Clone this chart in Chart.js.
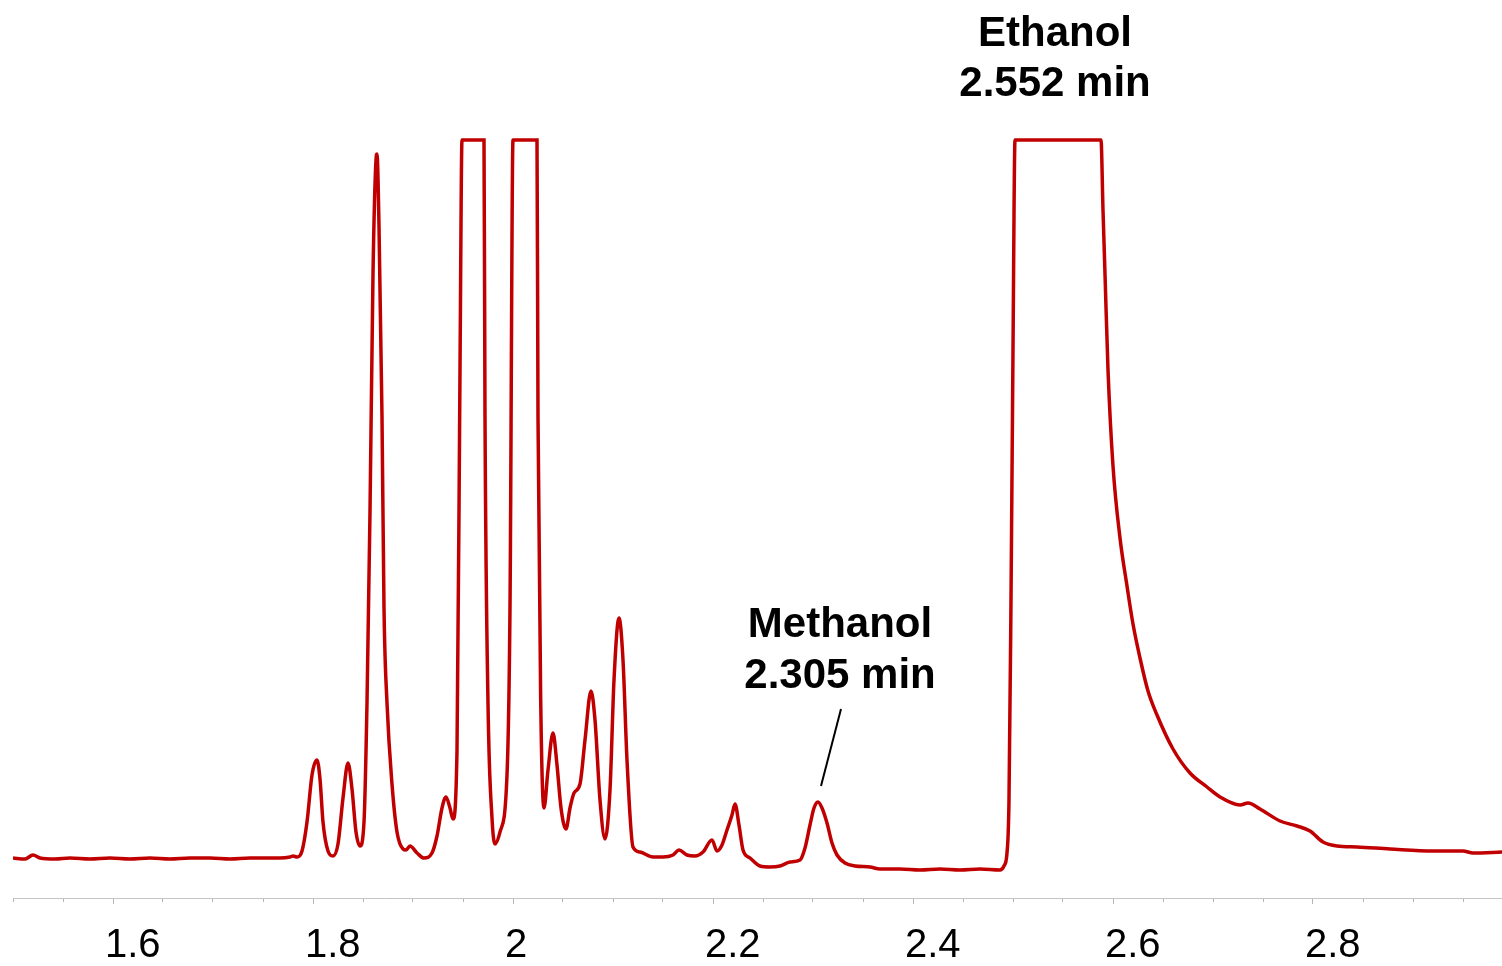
<!DOCTYPE html>
<html>
<head>
<meta charset="utf-8">
<script src="https://cdn.jsdelivr.net/npm/chart.js@4/dist/chart.umd.min.js"></script>
<style>
  html, body { margin: 0; padding: 0; background: #fff; }
  #wrap { width: 1502px; height: 966px; }
</style>
</head>
<body>
<div id="wrap"><canvas id="chrom" width="1502" height="966"></canvas></div>
<script>
// Retention time (min) and detector signal (arbitrary units)
const times = [
  1.500, 1.512, 1.520, 1.527, 1.542, 1.557, 1.577, 1.597, 1.617, 1.637,
  1.657, 1.677, 1.697, 1.717, 1.737, 1.757, 1.767, 1.777, 1.780, 1.784,
  1.789, 1.794, 1.799, 1.804, 1.807, 1.810, 1.815, 1.820, 1.825, 1.830,
  1.835, 1.839, 1.843, 1.847, 1.851, 1.854, 1.857, 1.860, 1.863, 1.864,
  1.866, 1.869, 1.871, 1.874, 1.879, 1.884, 1.890, 1.893, 1.897, 1.904,
  1.911, 1.919, 1.924, 1.929, 1.933, 1.937, 1.940, 1.944, 1.947, 1.949,
  1.971, 1.972, 1.975, 1.979, 1.982, 1.987, 1.994, 1.997, 2.000, 2.024,
  2.025, 2.028, 2.031, 2.035, 2.040, 2.044, 2.048, 2.053, 2.057, 2.061,
  2.067, 2.072, 2.078, 2.082, 2.087, 2.092, 2.097, 2.101, 2.106, 2.110,
  2.114, 2.120, 2.127, 2.140, 2.150, 2.160, 2.166, 2.174, 2.182, 2.190,
  2.199, 2.204, 2.209, 2.214, 2.219, 2.222, 2.226, 2.230, 2.237, 2.247,
  2.257, 2.267, 2.277, 2.287, 2.292, 2.297, 2.301, 2.305, 2.309, 2.314,
  2.319, 2.324, 2.332, 2.342, 2.357, 2.367, 2.387, 2.407, 2.427, 2.447,
  2.467, 2.487, 2.491, 2.494, 2.496, 2.498, 2.500, 2.502, 2.588, 2.590,
  2.592, 2.595, 2.600, 2.607, 2.614, 2.620, 2.627, 2.635, 2.644, 2.660,
  2.677, 2.694, 2.707, 2.727, 2.735, 2.747, 2.767, 2.784, 2.797, 2.810,
  2.824, 2.844, 2.877, 2.920, 2.950, 2.960, 2.989
];
const signal = [
   40,  39,  43,  40,  39,  40,  39,  40,  39,  40,
   39,  40,  40,  39,  40,  40,  40,  41,  42,  41,
   47,  76, 123, 138, 119,  76,  47,  42,  54, 100,
  135, 109,  66,  52,  76, 195, 386, 624, 738, 744,
  672, 481, 290, 195, 114,  66,  49,  48,  52,  45,
   40,  45,  62,  90, 101,  90,  79, 147, 529, 758,
  758, 481, 195,  80,  54,  66, 123, 290, 758, 758,
  481, 178,  90, 128, 165, 133,  90,  69,  90, 105,
  114, 158, 207, 178,  98,  59, 108, 218, 280, 238,
  138,  51,  46,  41,  41,  43,  48,  43,  42,  46,
   58,  47,  53,  68,  83,  94,  73,  48,  40,  32,
   31,  32,  36,  38,  50,  73,  90,  96,  90,  75,
   55,  43,  35,  32,  31,  29,  29,  28,  29,  28,
   29,  28,  32,  45,  98, 298, 548, 758, 758, 688,
  624, 528, 432, 360, 312, 274, 240, 207, 183, 149,
  125, 111, 101,  93,  95,  89,  77,  72,  67,  56,
   52,  51,  49,  47,  47,  45,  46
];

const axisTicks = [
  1.50, 1.55, 1.60, 1.65, 1.70, 1.75, 1.80, 1.85, 1.90, 1.95,
  2.00, 2.05, 2.10, 2.15, 2.20, 2.25, 2.30, 2.35, 2.40, 2.45,
  2.50, 2.55, 2.60, 2.65, 2.70, 2.75, 2.80, 2.85, 2.90, 2.95
];
const majorTicks = [1.6, 1.8, 2.0, 2.2, 2.4, 2.6, 2.8];
const tickLabels = ['1.6', '1.8', '2', '2.2', '2.4', '2.6', '2.8'];

const peakNames = ['Methanol', 'Ethanol'];
const peakTimes = [2.305, 2.552];

const FONT = '"Liberation Sans", Arial, Helvetica, sans-serif';

function majorIndex(v){
  return majorTicks.findIndex(m => Math.abs(m - v) < 1e-6);
}

// peak names with retention times, plus the leader line on methanol
const peakLabels = {
  id: 'peakLabels',
  afterDatasetsDraw(chart){
    const c = chart.ctx, xs = chart.scales.x;
    c.save();
    c.fillStyle = '#000';
    c.font = 'bold 42px ' + FONT;
    c.textAlign = 'center';
    c.textBaseline = 'alphabetic';

    const mx = xs.getPixelForValue(peakTimes[0]);
    c.fillText(peakNames[0], mx + 22, 637);
    c.fillText(peakTimes[0].toFixed(3) + ' min', mx + 22, 688);
    c.strokeStyle = '#000';
    c.lineWidth = 2;
    c.beginPath();
    c.moveTo(mx + 23, 709);
    c.lineTo(mx + 3, 786);
    c.stroke();

    const ex = xs.getPixelForValue(peakTimes[1]);
    c.fillText(peakNames[1], ex - 10, 46);
    c.fillText(peakTimes[1].toFixed(3) + ' min', ex - 10, 96);
    c.restore();
  }
};

new Chart(document.getElementById('chrom'), {
  type: 'line',
  data: {
    datasets: [{
      data: times.map((t, i) => ({ x: t, y: signal[i] })),
      borderColor: '#C00000',
      borderWidth: 3.5,
      pointRadius: 0,
      fill: false,
      cubicInterpolationMode: 'monotone'
    }]
  },
  options: {
    responsive: false,
    animation: false,
    devicePixelRatio: 1,
    layout: { padding: { left: 13, right: 0, top: 0, bottom: 0 } },
    plugins: { legend: { display: false }, tooltip: { enabled: false } },
    scales: {
      x: {
        type: 'linear',
        min: 1.5,
        max: 2.989,
        afterBuildTicks: (s) => { s.ticks = axisTicks.map(v => ({ value: v })); },
        afterFit: (s) => { s.height = 68; s.paddingLeft = 0; s.paddingRight = 0; },
        border: { display: true, color: '#c4c4c4', width: 1 },
        grid: {
          drawOnChartArea: false,
          drawTicks: true,
          tickLength: 6,
          tickColor: '#b4b4b4',
          tickWidth: 1,
          tickBorderDash: (ctx) => majorIndex(ctx.tick.value) >= 0 ? [] : [3, 20]
        },
        ticks: {
          autoSkip: false,
          maxRotation: 0,
          padding: 22,
          align: 'start',
          labelOffset: -8,
          color: '#000',
          font: { family: FONT, size: 40, lineHeight: 1.0 },
          callback: (v) => { const i = majorIndex(v); return i >= 0 ? tickLabels[i] : ''; }
        }
      },
      y: {
        display: false,
        min: 0,
        max: 898
      }
    }
  },
  plugins: [peakLabels]
});
</script>
</body>
</html>
